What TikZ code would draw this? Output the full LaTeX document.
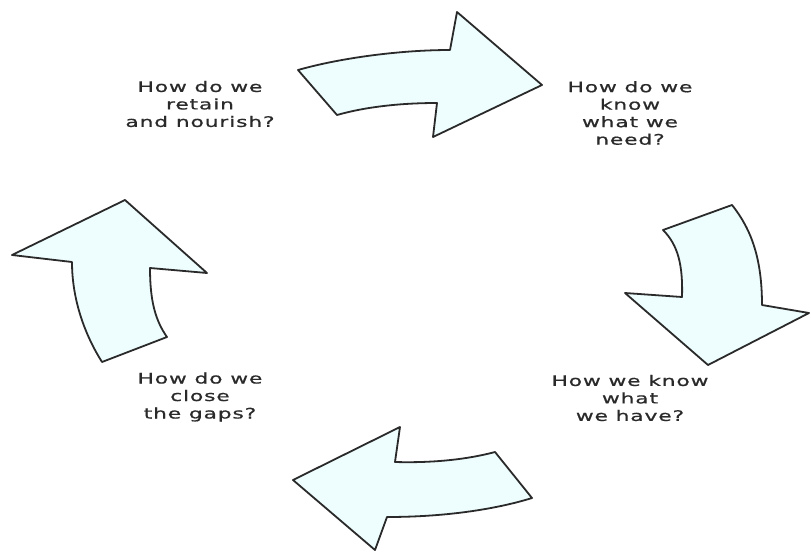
\documentclass[tikz,border=0pt]{standalone}
\usepackage{fontspec}
\newfontfamily\lblfont[FakeStretch=1.5,LetterSpace=6,FakeBold=0.8]{DejaVu Sans}
\definecolor{arrowfill}{HTML}{EEFDFD}
\definecolor{arrowline}{HTML}{2A2A2A}
\definecolor{txt}{HTML}{2A2A2A}
\tikzset{
  bigarrow/.style={draw=arrowline, fill=arrowfill, line width=1.8pt, line join=round},
  lbl/.style={align=center, text=txt, font=\lblfont\fontsize{14.5}{17.5}\selectfont, inner sep=0pt}
}
\begin{document}
\begin{tikzpicture}[x=1pt,y=-1pt]
\useasboundingbox (0,0) rectangle (811,554);
% top arrow (pointing right)
\draw[bigarrow] (298,70) .. controls (340,58) and (400,50) .. (450,50)
  -- (457,12) -- (542,85) -- (433,137) -- (437,103)
  .. controls (400,103) and (365,107) .. (337,115) -- cycle;
% right arrow (pointing down)
\draw[bigarrow] (663,230) -- (732,205)
  .. controls (752,230) and (762,260) .. (762,305)
  -- (809,313) -- (708,365) -- (625,293) -- (682,297)
  .. controls (683,265) and (678,245) .. (663,230) -- cycle;
% bottom arrow (pointing left)
\draw[bigarrow] (495,452) -- (532,498)
  .. controls (500,508) and (450,517) .. (387,517)
  -- (375,550) -- (293,480) -- (400,427) -- (395,462)
  .. controls (430,463) and (465,460) .. (495,452) -- cycle;
% left arrow (pointing up)
\draw[bigarrow] (102,362) .. controls (85,335) and (72,300) .. (72,262)
  -- (12,255) -- (125,200) -- (207,273) -- (150,268)
  .. controls (150,300) and (155,320) .. (167,337) -- cycle;
% labels
\node[lbl] (retain) at (200,104) {How do we\\retain\\and nourish?};
\node[lbl] (need) at (630,113) {How do we\\know\\what we\\need?};
\node[lbl] (have) at (630,398) {How we know\\what\\we have?};
\node[lbl] (close) at (200,397) {How do we\\close\\the gaps?};
\end{tikzpicture}
\end{document}
